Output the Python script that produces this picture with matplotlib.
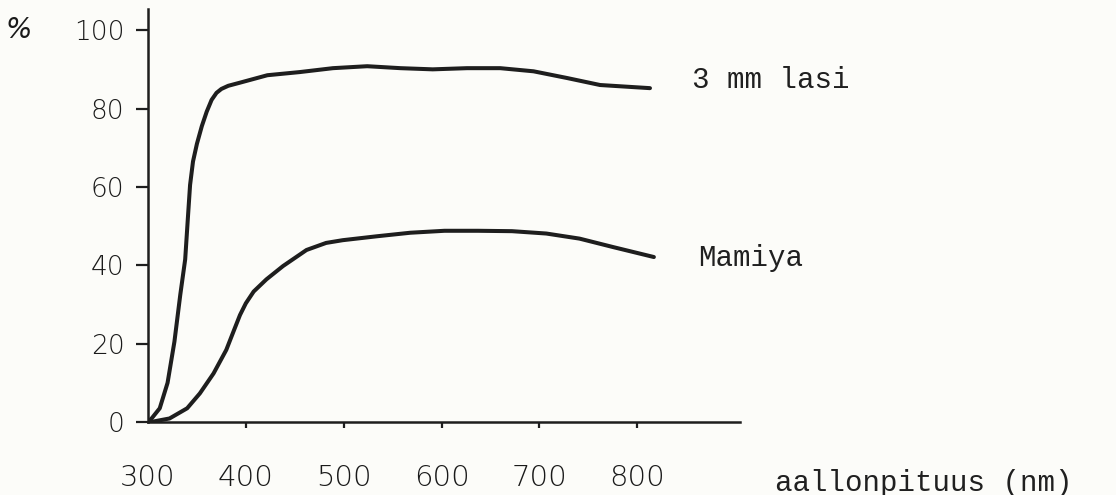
import matplotlib
matplotlib.use("Agg")
import matplotlib.pyplot as plt

# ---- data ----
lasi_nm = [300, 304, 312, 320, 327, 333, 338, 341, 343, 346, 350, 355, 360, 365, 370, 375, 382, 394,
           422, 455, 489, 524, 558, 591, 626, 660, 694, 728, 762, 813]
lasi_T = [0, 1.0, 3.5, 10.0, 20.5, 32.5, 41.5, 53.0, 60.5, 66.5, 71.0, 75.5, 79.2, 82.2, 84.0, 85.0, 85.8, 86.6,
          88.5, 89.3, 90.3, 90.8, 90.3, 90.0, 90.3, 90.3, 89.5, 87.8, 86.0, 85.2]

mamiya_nm = [300, 305, 322, 340, 353, 367, 380, 388, 394, 400, 408, 421, 438, 462, 482, 499,
             534, 568, 603, 637, 672, 707, 741, 776, 817]
mamiya_T = [0, 0.1, 0.9, 3.5, 7.3, 12.4, 18.4, 23.5, 27.3, 30.3, 33.3, 36.4, 39.8, 43.9, 45.7, 46.4,
            47.4, 48.3, 48.8, 48.8, 48.7, 48.1, 46.8, 44.6, 42.1]

x_ticks = [300, 400, 500, 600, 700, 800]
x_labels = ["300", "400", "500", "600", "700", "800"]
y_ticks = [0, 20, 40, 60, 80, 100]
y_labels = ["0", "20", "40", "60", "80", "100"]

label_lasi = "3 mm lasi"
label_mamiya = "Mamiya"
x_title = "aallonpituus (nm)"
y_unit = "%"

# ---- figure ----
W, H = 1116, 495
bg = "#fcfcf9"
ink = "#1e1e1e"
txt = "#1a1a1a"
fig = plt.figure(figsize=(W / 100, H / 100), dpi=100, facecolor=bg)
ax = fig.add_axes([148 / W, (H - 422) / H, (740 - 148) / W, (422 - 9) / H])
ax.set_facecolor(bg)

ax.plot(lasi_nm, lasi_T, color=ink, lw=2.9, solid_capstyle="round", solid_joinstyle="round")
ax.plot(mamiya_nm, mamiya_T, color=ink, lw=2.9, solid_capstyle="round", solid_joinstyle="round")

ax.set_xlim(300, 905)
ax.set_ylim(0, 105.4)

for s in ["top", "right"]:
    ax.spines[s].set_visible(False)
for s in ["left", "bottom"]:
    ax.spines[s].set_linewidth(1.8)
    ax.spines[s].set_color(ink)

numfont = dict(family="DejaVu Sans", weight="light")
ax.set_xticks(x_ticks)
ax.set_xticklabels(x_labels, fontsize=21, **numfont)
ax.set_yticks(y_ticks)
ax.set_yticklabels(y_labels, fontsize=19, **numfont)
ax.tick_params(axis="x", direction="out", length=4, width=1.6, pad=26, colors=ink)
ax.tick_params(axis="y", direction="out", length=9, width=1.6, pad=8, colors=ink)
ax.xaxis.get_major_ticks()[0].tick1line.set_visible(False)
for lab in ax.get_xticklabels() + ax.get_yticklabels():
    lab.set_color(txt)

mono = dict(family="Liberation Mono", color="#202020")
ax.text(856, 87.2, label_lasi, fontsize=21, ha="left", va="center", **mono)
ax.text(862, 41.8, label_mamiya, fontsize=21, ha="left", va="center", **mono)
ax.text(941, -15.6, x_title, fontsize=21, ha="left", va="center", clip_on=False, **mono)
ax.text(168, 100, y_unit, fontsize=20, ha="center", va="center", color=txt,
        style="italic", clip_on=False, family="DejaVu Sans", weight="light")

fig.savefig("out.png", dpi=100, facecolor=bg)
